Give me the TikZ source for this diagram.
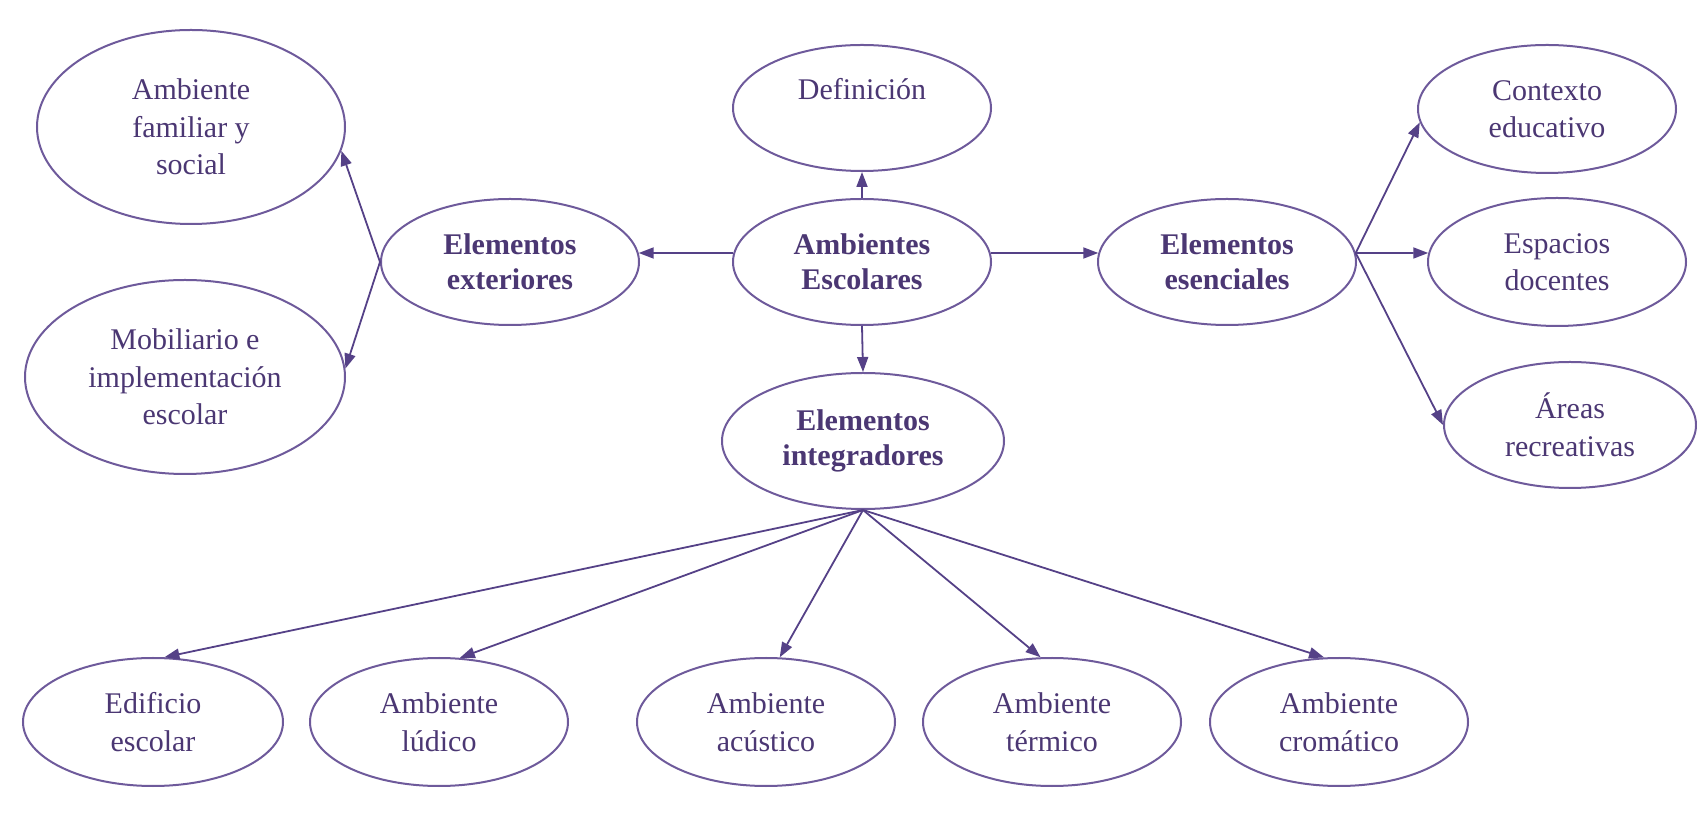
\documentclass[tikz,border=0pt]{standalone}
\usepackage{fontspec}
\setmainfont{Liberation Serif}
\usetikzlibrary{arrows.meta,shapes.geometric}
\definecolor{elc}{RGB}{110,90,155}
\definecolor{lnc}{RGB}{85,65,135}
\definecolor{txc}{RGB}{75,55,115}
\begin{document}
\begin{tikzpicture}[x=0.5pt,y=-0.5pt,
  ell/.style={ellipse,draw=elc,line width=1pt,inner sep=0pt,align=center,text=txc,
    font=\fontsize{15}{18.75}\selectfont,minimum width=129pt,minimum height=63pt},
  bld/.style={ell,font=\fontsize{15}{17.5}\selectfont\bfseries},
  conn/.style={draw=lnc,line width=0.9pt,-{Triangle[length=7.5pt,width=5.5pt]}}]
\useasboundingbox (0,0) rectangle (1697,822);
% left column
\node[ell,minimum width=154pt,minimum height=97pt] (fam) at (191,127) {Ambiente\\familiar y\\social};
\node[ell,minimum width=160pt,minimum height=97pt] (mob) at (185,377) {Mobiliario e\\implementación\\escolar};
\node[bld] (ext) at (510,262) {Elementos\\exteriores};
% centre column
\node[ell] (def) at (862,108) {Definición\\\mbox{}};
\node[bld] (amb) at (862,262) {Ambientes\\Escolares};
\node[bld,minimum width=141pt,minimum height=68pt] (int) at (863,441) {Elementos\\integradores};
% right column
\node[bld] (ese) at (1227,262) {Elementos\\esenciales};
\node[ell,minimum height=64pt] (ctx) at (1547,109) {Contexto\\educativo};
\node[ell,minimum height=64pt] (esp) at (1557,262) {Espacios\\docentes};
\node[ell,minimum width=126pt] (are) at (1570,425) {Áreas\\recreativas};
% bottom row
\node[ell,minimum width=130pt,minimum height=64pt] (edi) at (153,722) {Edificio\\escolar};
\node[ell,minimum height=64pt] (lud) at (439,722) {Ambiente\\lúdico};
\node[ell,minimum height=64pt] (acu) at (766,722) {Ambiente\\acústico};
\node[ell,minimum height=64pt] (ter) at (1052,722) {Ambiente\\térmico};
\node[ell,minimum height=64pt] (cro) at (1339,722) {Ambiente\\cromático};
% connectors
\draw[conn] (amb.north) -- (def.south);
\draw[conn] (amb.176) -- (ext.4);
\draw[conn] (amb.4) -- (ese.176);
\draw[conn] (amb.south) -- (int.north);
\draw[conn] (ext.west) -- (fam.-9);
\draw[conn] (ext.west) -- (mob.3);
\draw[conn] (ese.4) -- (ctx.186);
\draw[conn] (ese.4) -- (esp.176);
\draw[conn] (ese.4) -- (are.west);
\draw[conn] (int.south) -- (edi.80);
\draw[conn] (int.south) -- (lud.72);
\draw[conn] (int.south) -- (acu.78);
\draw[conn] (int.south) -- (ter.100);
\draw[conn] (int.south) -- (cro.103);
\end{tikzpicture}
\end{document}
